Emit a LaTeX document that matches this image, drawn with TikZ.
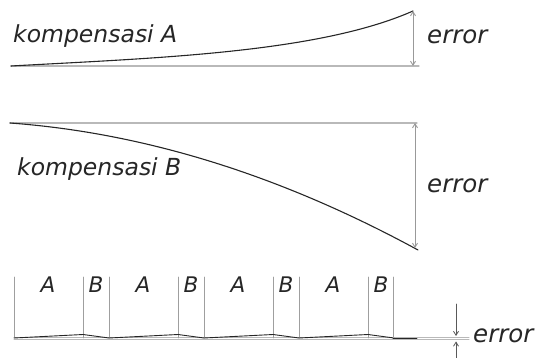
\documentclass[tikz,border=0pt]{standalone}
\usepackage{fontspec}
\setmainfont{DejaVu Sans}
\usetikzlibrary{arrows.meta}

\begin{document}
\begin{tikzpicture}[x=1pt, y=-1pt, line join=round, line cap=round,
    ref/.style={draw=gray!55, line width=1.3pt},
    curve/.style={draw=black!85, line width=1.1pt},
    dim/.style={draw=gray!80, line width=0.9pt, {Straight Barb[length=4pt,width=5pt]}-{Straight Barb[length=4pt,width=5pt]}},
    tick/.style={draw=gray!75, line width=0.8pt},
    lbl/.style={font=\fontsize{23.5}{28}\selectfont\itshape, text=black!85, inner sep=0pt},
    seglbl/.style={font=\fontsize{21.5}{25}\selectfont\itshape, text=black!85, inner sep=0pt},
    errlbl/.style={font=\fontsize{24.5}{28}\selectfont\itshape, text=black!85, inner sep=0pt}]
  \useasboundingbox (0,0) rectangle (536,358);

  % kompensasi A
  \coordinate (a1) at (11,66);
  \coordinate (a2) at (413,11);
  \coordinate (a3) at (413,66);
  \coordinate (a4) at (419,66);
  \draw [ref] (a1) -- (a4);
  \draw [curve] (a1) .. controls (155,58) and (318,53) .. (a2);
  \draw [dim] (a2) -- (a3);
  \node [lbl, anchor=base west] (kA) at (13,43) {kompensasi A};
  \node [errlbl, anchor=base west] (eA) at (427,44) {error};

  % kompensasi B
  \coordinate (b1) at (10,123);
  \coordinate (b2) at (418,250);
  \coordinate (b3) at (415,123);
  \coordinate (b4) at (415,248);
  \coordinate (b5) at (417,123);
  \draw [ref] (b1) -- (b5);
  \draw [curve] (b1) .. controls (146,133) and (282,176) .. (b2);
  \draw [dim] (b3) -- (b4);
  \node [lbl, anchor=base west] (kB) at (17,176) {kompensasi B};
  \node [errlbl, anchor=base west] (eB) at (427,193) {error};

  % A/B bergantian
  \coordinate (c1) at (14,340);
  \coordinate (c2) at (469,340);
  \coordinate (c3) at (14,337.5);
  \coordinate (c4) at (469,337.5);
  \draw [ref, line width=1pt] (c1) -- (c2);
  \draw [ref, line width=1pt] (c3) -- (c4);
  \foreach \i in {0,...,3} {
    \draw [tick] ({14+95*\i},277) -- ({14+95*\i},338);
    \draw [tick] ({83+95*\i},277) -- ({83+95*\i},338);
    \draw [curve, line width=0.9pt] ({14+95*\i},338) -- ({83+95*\i},334.5) -- ({109+95*\i},338);
    \node [seglbl, anchor=base] (pA\i) at ({48+95*\i},293) {A};
    \node [seglbl, anchor=base] (pB\i) at ({96+95*\i},293) {B};
  }
  \draw [tick] (393,277) -- (393,338);
  \draw [curve, line width=0.9pt] (393,338) -- (417,338);
  \coordinate (d1) at (456,304);
  \coordinate (d2) at (456,336);
  \coordinate (d3) at (456,358);
  \coordinate (d4) at (456,341.5);
  \draw [draw=gray!70!black, line width=0.8pt, -{Straight Barb[length=4pt,width=5pt]}] (d1) -- (d2);
  \draw [draw=gray!70!black, line width=0.8pt, -{Straight Barb[length=4pt,width=5pt]}] (d3) -- (d4);
  \node [errlbl, anchor=base west] (eC) at (473,343) {error};
\end{tikzpicture}
\end{document}
